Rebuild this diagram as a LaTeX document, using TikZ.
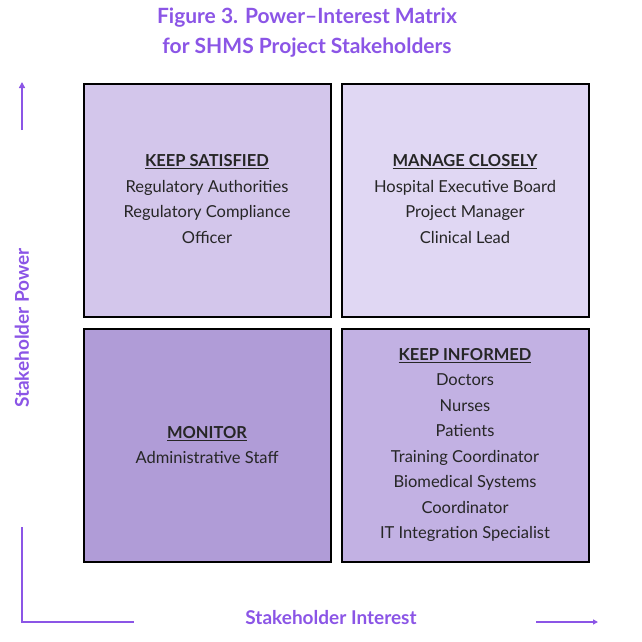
\documentclass[tikz,border=0pt]{standalone}
\usepackage{fontspec}
\setmainfont{Lato}
\usetikzlibrary{arrows.meta,positioning}
\definecolor{titlepurple}{HTML}{8B55E6}
\definecolor{cellA}{HTML}{D3C6EB}
\definecolor{cellB}{HTML}{E0D7F3}
\definecolor{cellC}{HTML}{B09CD7}
\definecolor{cellD}{HTML}{C2B1E3}

\begin{document}
\begin{tikzpicture}[
    x=1pt, y=-1pt,
    cell/.style={rectangle, draw=black, line width=1.6pt, minimum width=247pt, minimum height=233pt, anchor=north west, inner sep=0pt},
    celltext/.style={align=center, font=\fontsize{16.5}{25.5}\selectfont, text=black!85},
    axis/.style={draw=titlepurple, line width=1.4pt},
    axislabel/.style={text=titlepurple, font=\fontsize{19}{22}\selectfont\bfseries}
]
\useasboundingbox (0,0) rectangle (642,642);

% Title
\node[text=titlepurple, font=\fontsize{21}{30}\selectfont\bfseries, align=center] (title) at (307,33) {Figure 3. Power--Interest Matrix\\for SHMS Project Stakeholders};

% Quadrants
\node[cell, fill=cellA] (satisfied) at (83,83) {};
\node[cell, fill=cellB] (manage) at (341,83) {};
\node[cell, fill=cellC] (monitor) at (83,328) {};
\node[cell, fill=cellD] (informed) at (341,328) {};

% Quadrant texts
\node[celltext] (satisfiedtext) at (207,199) {\textbf{\underline{KEEP SATISFIED}}\\Regulatory Authorities\\Regulatory Compliance\\Officer};
\node[celltext] (managetext) at (465,199) {\textbf{\underline{MANAGE CLOSELY}}\\Hospital Executive Board\\Project Manager\\Clinical Lead};
\node[celltext] (monitortext) at (207,445) {\textbf{\underline{MONITOR}}\\Administrative Staff};
\node[celltext] (informedtext) at (465,445) {\textbf{\underline{KEEP INFORMED}}\\Doctors\\Nurses\\Patients\\Training Coordinator\\Biomedical Systems\\Coordinator\\IT Integration Specialist};

% Axes
\coordinate (powerfoot) at (22,130);
\coordinate (powerhead) at (22,82);
\coordinate (cornertop) at (22,527);
\coordinate (corner) at (22,622);
\coordinate (cornerend) at (134,622);
\coordinate (interestfoot) at (536,622);
\coordinate (interesthead) at (598,622);
\draw[axis, -{Triangle[length=6pt, width=6pt]}] (powerfoot) -- (powerhead);
\draw[axis] (cornertop) -- (corner) -- (cornerend);
\draw[axis, -{Triangle[length=5pt, width=5pt]}] (interestfoot) -- (interesthead);
\node[axislabel, rotate=90] (power) at (22,328) {Stakeholder Power};
\node[axislabel] (interest) at (331,618) {Stakeholder Interest};

\end{tikzpicture}
\end{document}
